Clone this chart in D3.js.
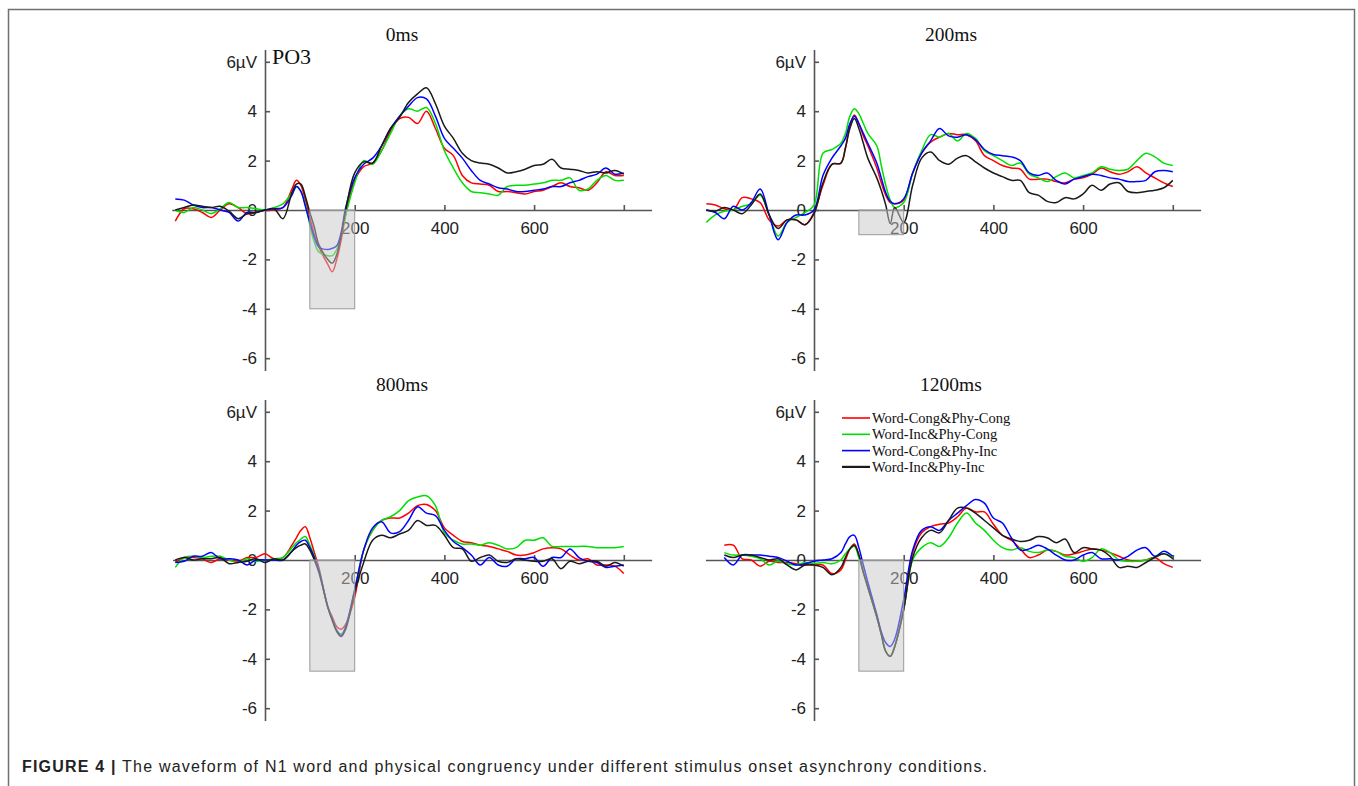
<!DOCTYPE html>
<html>
<head>
<meta charset="utf-8">
<script src="https://cdn.jsdelivr.net/npm/d3@7"></script>
<style>
  body { margin: 0; background: #fff; }
  .axis path, .axis line { stroke: #555; stroke-width: 1.6; }
  .axis text { font-family: "Liberation Sans", Arial, sans-serif; font-size: 17px; fill: #222; }
</style>
</head>
<body>
<script>
// condition names and colours
const conditions = ["Word-Cong&Phy-Cong", "Word-Inc&Phy-Cong", "Word-Cong&Phy-Inc", "Word-Inc&Phy-Inc"];
const colors = ["#ff0000", "#00e000", "#0000ff", "#1a1a1a"];
const soaTitles = ["0ms", "200ms", "800ms", "1200ms"];
const yTicks = [-6, -4, -2, 0, 2, 4, 6];
const xTicks = [200, 400, 600, 800];
const xTickLabels = ["200", "400", "600", ""];
// N1 window (ms) and lower edge of the shaded box per panel (µV)
const n1Window = [100, 200];
const n1Low = [-4, -1, -4.5, -4.5];

// sample times (ms)
const timesA = [-200,-180,-160,-140,-120,-100,-80,-60,-40,-20,0,20,40,60,70,80,90,100,110,120,140,150,160,170,180,
  200,220,240,260,280,300,320,340,360,380,400,420,440,460,480,500,520,540,560,580,600,620,640,660,680,700,720,740,760,780,800];
const timesB = [-240,-220,-200,-180,-160,-140,-120,-100,-80,-60,-40,-20,0,20,40,60,70,80,90,100,110,120,140,150,160,170,180,
  200,220,240,260,280,300,320,340,360,380,400,420,440,460,480,500,520,540,560,580,600,620,640,660,680,700,720,740,760,780,800];

// ---- SOA 0ms (PO3) ----
const soa0Red = [-0.45,0.05,0.05,-0.1,-0.3,0.0,0.25,0.1,-0.15,-0.1,0,0.0,0.1,0.85, 1.2,1.0,0.4,-0.3,-1.0,-1.5, -2.2,-2.5,-2.0,-1.2,-0.2,
  1.2,1.75,1.9,2.4,3.2,3.7,3.75,3.5,4.0,3.3,2.5,2.2,1.4,1.1,1.05,1.0,0.75,0.75,0.7,0.65,0.75,0.8,0.95,1.1,0.95,0.9,0.8,1.1,1.55,1.4,1.4];
const soa0Green = [0.0,-0.1,0.1,0.0,-0.15,0.05,0.3,0.1,0.1,0.05,0,0.1,0.25,0.7, 0.95,0.75,0.2,-0.6,-1.3,-1.7, -1.85,-1.85,-1.6,-1.0,-0.2,
  1.1,2.0,1.85,2.4,3.1,3.8,4.1,4.0,4.15,3.5,2.4,1.7,1.1,0.75,0.7,0.65,0.6,0.95,1.0,1.0,1.05,1.1,1.2,1.2,1.3,0.8,0.85,1.2,1.4,1.2,1.2];
const soa0Blue = [0.45,0.4,0.2,0.1,0.1,0.0,-0.1,-0.45,-0.1,-0.1,0.0,0.05,0.1,0.6, 0.95,0.75,0.15,-0.5,-1.1,-1.5, -1.6,-1.55,-1.45,-0.9,0.1,
  1.3,1.85,2.1,2.6,3.3,3.8,4.2,4.55,4.5,3.8,2.9,2.5,2.1,1.6,1.2,1.05,0.9,0.85,0.75,0.75,0.8,0.85,0.95,0.95,1.1,1.2,1.35,1.45,1.7,1.45,1.5];
const soa0Black = [0.0,0.1,0.2,0.15,0.1,0.15,-0.05,-0.35,-0.15,-0.1,0.0,0.05,-0.35,0.7, 1.05,1.05,0.55,-0.1,-0.7,-1.4, -2.0,-2.15,-1.8,-1.0,0.0,
  1.5,1.95,1.9,2.6,3.3,3.75,4.35,4.7,4.95,4.3,3.4,2.9,2.3,2.0,1.9,1.85,1.7,1.5,1.55,1.65,1.8,1.85,2.05,1.7,1.65,1.6,1.5,1.55,1.5,1.6,1.45];

// ---- SOA 200ms ----
const soa200Red = [0.25,0.2,0.05,0.0,0.5,0.45,0.3,-0.4,-0.65,-0.4,-0.4,-0.6,-0.1,1.0,1.85,1.9, 2.5,3.4,3.85,3.5,3.0,2.6, 1.7,1.1,0.6,0.3,0.25,
  0.4,1.5,2.3,2.75,2.95,3.1,3.05,3.05,2.8,2.2,2.0,1.8,1.7,1.65,1.25,1.25,1.25,1.15,1.1,1.25,1.3,1.45,1.7,1.55,1.45,1.55,1.75,1.5,1.3,1.1,0.95];
const soa200Green = [-0.5,-0.2,-0.05,0.0,0.15,0.25,0.6,-0.2,-1.05,-0.5,-0.3,-0.1,0.2,2.3,2.45,2.7, 3.1,3.8,4.1,3.9,3.5,3.1, 2.6,1.8,1.0,0.4,0.1,
  0.3,1.5,2.4,3.05,2.95,3.1,2.8,3.1,2.9,2.4,2.2,2.0,1.8,1.9,1.45,1.3,1.15,1.35,1.5,1.3,1.4,1.5,1.75,1.65,1.6,1.65,2.0,2.3,2.15,1.9,1.8];
const soa200Blue = [0.0,-0.1,-0.35,0.15,0.0,0.3,0.85,-0.2,-1.2,-0.5,-0.2,-0.2,0.0,1.4,2.1,2.6, 2.9,3.5,3.8,3.5,3.1,2.7, 1.9,1.3,0.7,0.35,0.25,
  0.45,1.5,2.3,2.8,3.3,3.0,2.95,3.05,2.85,2.45,2.25,2.2,2.15,2.0,1.5,1.4,1.5,1.2,1.05,1.25,1.35,1.45,1.4,1.3,1.25,1.15,1.15,1.2,1.55,1.6,1.55];
const soa200Black = [0.0,-0.05,0.1,0.0,-0.15,0.2,0.65,-0.2,-0.75,-0.4,-0.4,-0.6,-0.15,1.1,1.85,1.9, 2.5,3.3,3.7,3.3,2.7,2.1, 1.3,0.8,0.2,-0.55,0.1,
  -0.5,1.0,2.1,2.35,2.0,1.85,2.1,2.2,1.95,1.7,1.5,1.35,1.2,1.2,0.7,0.6,0.35,0.3,0.5,0.45,0.65,1.0,0.8,1.05,1.1,0.75,0.7,0.75,0.8,0.9,1.2];

// ---- SOA 800ms ----
const soa800Red = [-0.1,0.1,0.1,0.05,-0.1,0.05,0.0,-0.05,0.1,0.1,0.25,0.05,0.1,0.6, 0.9,1.2,1.35,0.9,0.3,-0.3, -1.9,-2.3,-2.7,-2.8,-2.6,
  -1.5,0.4,1.2,1.6,1.7,1.7,1.9,2.2,2.25,2.0,1.3,1.0,0.75,0.7,0.6,0.55,0.45,0.35,0.2,0.2,0.3,0.45,0.5,0.45,0.2,0.0,0.05,-0.2,-0.2,-0.25,-0.55];
const soa800Green = [-0.3,0.1,0.15,0.1,0.15,0.15,0.0,-0.1,0.05,-0.05,0.0,0.05,0.1,0.5, 0.7,0.85,0.95,0.6,0.15,-0.4, -1.9,-2.4,-2.85,-3.0,-2.7,
  -1.2,0.4,1.2,1.6,1.75,2.0,2.4,2.55,2.6,2.2,1.1,0.8,0.65,0.65,0.6,0.7,0.6,0.45,0.5,0.8,0.8,0.9,0.55,0.55,0.55,0.55,0.55,0.5,0.5,0.5,0.55];
const soa800Blue = [-0.1,-0.05,0.15,0.15,0.3,0.05,0.05,0.0,-0.2,0.0,0.0,0.0,0.0,0.35, 0.6,0.75,0.8,0.5,0.1,-0.4, -1.9,-2.4,-2.85,-3.05,-2.7,
  -1.2,0.4,1.3,1.55,1.1,1.15,1.6,2.15,1.9,1.8,1.2,0.75,0.5,0.2,-0.2,0.1,-0.2,-0.25,0.05,0.05,0.1,-0.25,0.1,0.1,0.45,0.1,-0.05,-0.1,-0.3,-0.25,-0.2];
const soa800Black = [0.0,0.1,0.0,0.05,0.05,0.1,-0.15,-0.1,-0.05,0.05,-0.1,0.05,0.0,0.35, 0.5,0.6,0.65,0.4,0.0,-0.5, -1.9,-2.45,-2.9,-3.1,-2.8,
  -1.3,-0.1,0.8,1.0,0.9,1.05,1.2,1.6,1.4,1.4,1.0,0.5,0.45,-0.05,0.1,0.2,-0.05,-0.1,0.05,0.0,-0.05,-0.05,0.05,-0.35,-0.05,-0.15,-0.05,-0.05,-0.25,-0.1,-0.25];

// ---- SOA 1200ms ----
const soa1200Red = [0.6,0.6,0.05,0.0,-0.25,-0.05,-0.1,-0.1,-0.15,-0.2,-0.2,-0.2,-0.55,-0.4, 0.0,0.45,0.65,0.2,-0.5,-1.1, -2.3,-3.0,-3.7,-3.9,-3.5,
  -2.0,0.3,1.1,1.35,1.45,1.5,1.75,2.1,1.95,1.95,1.45,1.0,0.8,0.45,0.1,0.2,0.4,0.35,0.2,0.25,0.35,0.45,0.4,0.3,0.15,0.0,-0.05,0.0,0.1,-0.15,-0.3];
const soa1200Green = [0.3,0.2,0.2,0.15,0.05,-0.2,-0.05,-0.15,-0.2,-0.1,-0.15,-0.1,-0.15,0.0, 0.25,0.45,0.55,0.1,-0.5,-1.1, -2.3,-3.0,-3.7,-3.9,-3.5,
  -2.0,0.0,0.5,0.7,0.55,0.9,1.5,1.9,1.5,1.2,0.8,0.5,0.4,0.5,0.35,0.3,0.4,0.35,0.15,0.1,-0.05,0.1,0.45,0.3,0.0,-0.05,-0.05,0.0,0.1,0.25,0.1];
const soa1200Blue = [0.1,-0.2,0.2,0.2,0.2,0.15,0.1,-0.05,-0.2,-0.15,-0.05,0.0,0.05,0.3, 0.65,0.95,1.0,0.5,-0.2,-0.9, -2.2,-2.9,-3.35,-3.5,-3.2,
  -1.6,0.4,1.2,1.35,1.2,1.6,1.9,2.2,2.45,2.3,1.7,1.5,0.9,0.4,0.45,0.6,0.45,0.2,0.0,0.0,0.2,0.3,0.05,0.05,0.0,0.15,0.4,0.5,0.15,0.35,0.15];
const soa1200Black = [0.2,0.1,0.2,0.2,0.1,0.0,0.05,-0.2,-0.4,-0.2,-0.2,-0.3,-0.6,-0.3, 0.1,0.45,0.6,0.2,-0.5,-1.1, -2.3,-3.0,-3.7,-3.9,-3.5,
  -2.0,0.1,0.9,1.2,1.1,1.6,2.1,2.1,1.9,1.6,1.3,1.0,0.85,0.75,0.8,0.95,0.9,0.7,0.85,0.3,0.5,0.45,0.4,0.15,-0.3,-0.25,-0.3,-0.1,0.1,0.25,0.05];

const panelTimes = [timesA, timesB, timesA, timesA];
const panelSeries = [
  [soa0Red, soa0Green, soa0Blue, soa0Black],
  [soa200Red, soa200Green, soa200Blue, soa200Black],
  [soa800Red, soa800Green, soa800Blue, soa800Black],
  [soa1200Red, soa1200Green, soa1200Blue, soa1200Black]
];

// layout: y-axis x position, zero line y position, x-axis start (ms)
const layout = [
  { ax: 265, zy: 210, xStart: -208 },
  { ax: 814, zy: 210, xStart: -242 },
  { ax: 265, zy: 560, xStart: -206 },
  { ax: 814, zy: 560, xStart: -242 }
];

const width = 1358, height = 786;
const svg = d3.select("body").append("svg")
  .attr("width", width)
  .attr("height", height);

// outer frame
svg.append("rect")
  .attr("x", 8.5).attr("y", 9.5)
  .attr("width", 1346).attr("height", 800)
  .attr("fill", "none")
  .attr("stroke", "#707070")
  .attr("stroke-width", 1.5);

layout.forEach((p, k) => {
  const x = d3.scaleLinear().domain([0, 800]).range([p.ax, p.ax + 358.8]);
  const y = d3.scaleLinear().domain([-6, 6]).range([p.zy + 148.2, p.zy - 148.2]);
  const g = svg.append("g");

  // x axis (through 0 µV)
  const xAxisScale = x.copy().domain([p.xStart, 862]).range([x(p.xStart), x(862)]);
  g.append("g")
    .attr("class", "axis")
    .attr("transform", `translate(0,${y(0)})`)
    .call(d3.axisBottom(xAxisScale)
      .tickValues(xTicks)
      .tickSize(-5)
      .tickSizeOuter(0)
      .tickPadding(12)
      .tickFormat((d, i) => xTickLabels[i]));

  // y axis (at 0 ms)
  const yAxisScale = y.copy().domain([-6.5, 6.5]).range([y(-6.5), y(6.5)]);
  g.append("g")
    .attr("class", "axis")
    .attr("transform", `translate(${x(0)},0)`)
    .call(d3.axisLeft(yAxisScale)
      .tickValues(yTicks)
      .tickSize(-5)
      .tickSizeOuter(0)
      .tickPadding(8)
      .tickFormat(d => d === 6 ? "6µV" : String(d)));

  g.selectAll(".axis .domain").attr("fill", "none");

  // waveforms
  const times = panelTimes[k];
  const line = d3.line()
    .x((d, i) => x(times[i]))
    .y(d => y(d))
    .curve(d3.curveCatmullRom.alpha(0.5));

  g.selectAll("path.wave")
    .data(panelSeries[k])
    .enter()
    .append("path")
    .attr("class", "wave")
    .attr("d", line)
    .attr("fill", "none")
    .attr("stroke", (d, i) => colors[i])
    .attr("stroke-width", 1.5);

  // N1 window (translucent, over the lines)
  g.append("rect")
    .attr("x", x(n1Window[0]))
    .attr("y", y(0))
    .attr("width", x(n1Window[1]) - x(n1Window[0]))
    .attr("height", y(n1Low[k]) - y(0))
    .attr("fill", "#c8c8c8")
    .attr("fill-opacity", 0.5)
    .attr("stroke", "#999")
    .attr("stroke-width", 1);

  // title
  g.append("text")
    .attr("x", p.ax + 137)
    .attr("y", p.zy - 169)
    .attr("text-anchor", "middle")
    .style("font-family", "'Liberation Serif', 'Times New Roman', serif")
    .style("font-size", "19.5px")
    .attr("fill", "#111")
    .text(soaTitles[k]);
});

// electrode label
svg.append("text")
  .attr("x", 272)
  .attr("y", 63.5)
  .style("font-family", "'Liberation Serif', 'Times New Roman', serif")
  .style("font-size", "22px")
  .attr("fill", "#111")
  .text("PO3");

// legend in the 1200ms panel
const legend = svg.append("g")
  .attr("transform", `translate(${layout[3].ax + 28},${layout[3].zy - 142})`);
const legendRow = legend.selectAll("g")
  .data(conditions)
  .enter()
  .append("g")
  .attr("transform", (d, i) => `translate(0,${i * 16.3})`);
legendRow.append("line")
  .attr("x1", 0).attr("x2", 28)
  .attr("stroke", (d, i) => colors[i])
  .attr("stroke-width", (d, i) => i === 3 ? 2.2 : 1.6);
legendRow.append("text")
  .attr("x", 30)
  .attr("dy", "0.35em")
  .style("font-family", "'Liberation Serif', 'Times New Roman', serif")
  .style("font-size", "14.5px")
  .attr("fill", "#111")
  .text(d => d);

// caption
const caption = svg.append("text")
  .attr("x", 22)
  .attr("y", 772)
  .style("font-family", "'Liberation Sans', Arial, sans-serif")
  .style("font-size", "16px")
  .style("letter-spacing", "1.2px")
  .attr("fill", "#222");
caption.append("tspan")
  .style("font-weight", "bold")
  .text("FIGURE 4 |");
caption.append("tspan")
  .text(" The waveform of N1 word and physical congruency under different stimulus onset asynchrony conditions.");
</script>
</body>
</html>
